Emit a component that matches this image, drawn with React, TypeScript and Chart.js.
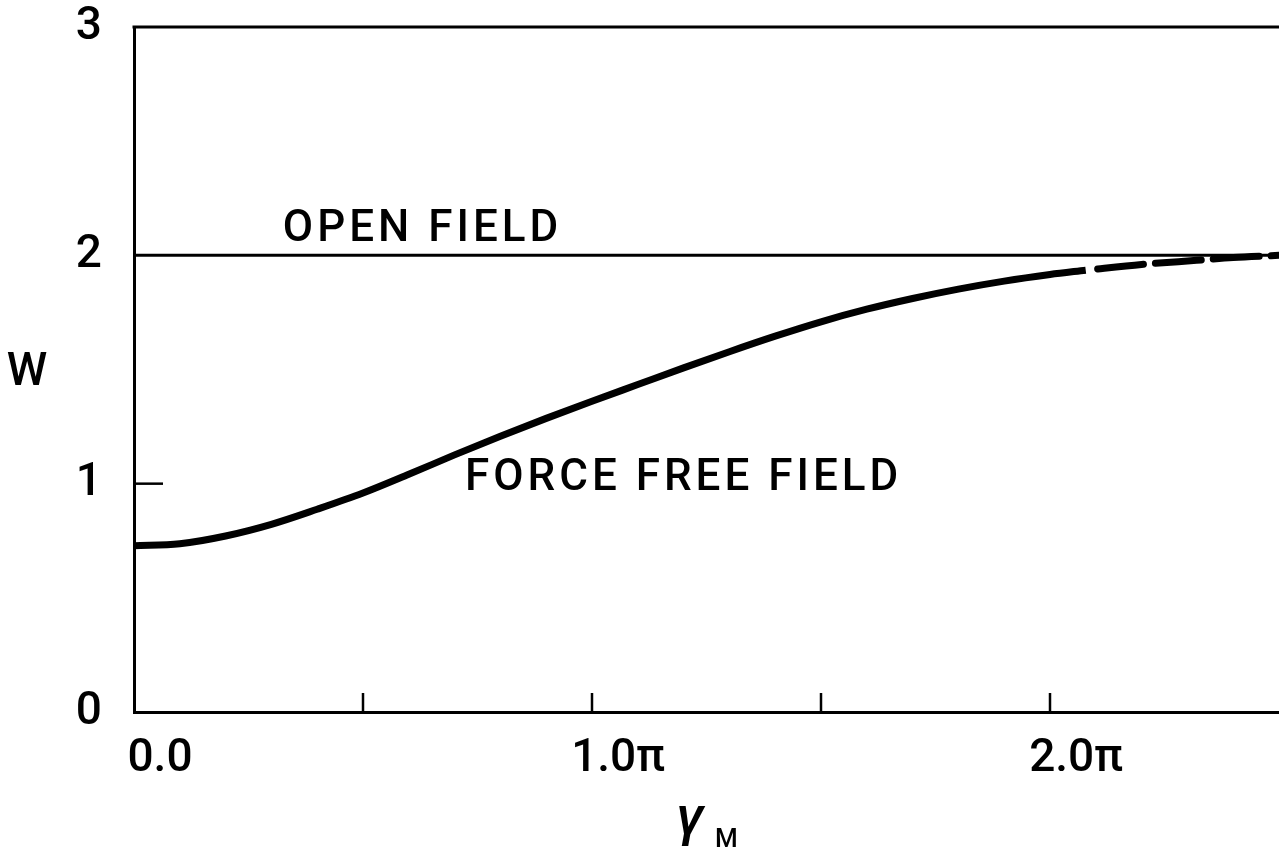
import React, { useEffect, useRef } from "react";
import { Chart, registerables } from "chart.js";

Chart.register(...registerables);

// x in units of pi, W values
const solidX = [0.0, 0.1, 0.2, 0.3, 0.4, 0.5, 0.6, 0.7, 0.8, 0.9, 1.0, 1.1, 1.2, 1.3, 1.4, 1.5, 1.6, 1.7, 1.8, 1.9, 2.0, 2.078];
const solidW = [0.728, 0.737, 0.771, 0.822, 0.888, 0.959, 1.041, 1.126, 1.208, 1.286, 1.361, 1.434, 1.507, 1.578, 1.646, 1.709, 1.764, 1.811, 1.852, 1.887, 1.916, 1.935];
const dashX = [2.078, 2.2, 2.32, 2.4, 2.5];
const dashW = [1.935, 1.96, 1.978, 1.99, 2.0];
const openX = [0, 2.5];
const openW = [2, 2];
const xTickValues = [0, 1, 2];
const xTickLabels = ["0.0", "1.0π", "2.0π"];
const xMinorTicks = [0.5, 1, 1.5, 2];
const yTickValues = [0, 1, 2, 3];
const yTickLabels = ["0", "1", "2", "3"];
const yInnerTicks = [1];

const FONT = "Roboto, 'Liberation Sans', Arial, sans-serif";

const pts = (xs: number[], ys: number[]) => xs.map((x, i) => ({ x, y: ys[i] }));

const overlay = {
  id: "overlay",
  afterDraw(chart: any) {
    const { ctx, chartArea, scales } = chart;
    const xs = scales.x;
    const ys = scales.y;
    ctx.save();
    ctx.strokeStyle = "#000";
    ctx.lineCap = "butt";
    // top frame line
    ctx.lineWidth = 3;
    ctx.beginPath();
    ctx.moveTo(chartArea.left - 1.5, chartArea.top);
    ctx.lineTo(chartArea.right, chartArea.top);
    ctx.stroke();
    // inward x ticks
    ctx.lineWidth = 2.5;
    xMinorTicks.forEach((v) => {
      const px = xs.getPixelForValue(v);
      ctx.beginPath();
      ctx.moveTo(px, chartArea.bottom);
      ctx.lineTo(px, chartArea.bottom - 19);
      ctx.stroke();
    });
    // inward y ticks
    yInnerTicks.forEach((v) => {
      const py = ys.getPixelForValue(v);
      ctx.beginPath();
      ctx.moveTo(chartArea.left, py);
      ctx.lineTo(chartArea.left + 29, py);
      ctx.stroke();
    });
    // annotations
    ctx.fillStyle = "#000";
    ctx.textAlign = "center";
    ctx.textBaseline = "middle";
    ctx.font = `500 44px ${FONT}`;
    (ctx as any).letterSpacing = "4px";
    ctx.fillText("OPEN FIELD", xs.getPixelForValue(0.63), ys.getPixelForValue(2.11));
    ctx.fillText("FORCE FREE FIELD", xs.getPixelForValue(1.2), ys.getPixelForValue(1.02));
    (ctx as any).letterSpacing = "0px";
    // axis titles
    ctx.font = `500 46px ${FONT}`;
    ctx.fillText("W", 27, 373);
    ctx.textAlign = "left";
    ctx.textBaseline = "alphabetic";
    ctx.font = `italic 500 56px ${FONT}`;
    ctx.fillText("γ", 676, 835);
    ctx.font = `500 26px ${FONT}`;
    ctx.fillText("M", 715, 847);
    ctx.restore();
  },
};

export default function App() {
  const ref = useRef<HTMLCanvasElement | null>(null);
  useEffect(() => {
    if (!ref.current) return;
    const chart = new Chart(ref.current, {
      type: "line",
      data: {
        datasets: [
          {
            label: "force free",
            data: pts(solidX, solidW),
            borderColor: "#000",
            borderWidth: 7,
            pointRadius: 0,
            cubicInterpolationMode: "monotone",
            fill: false,
          },
          {
            label: "force free (extrapolated)",
            data: pts(dashX, dashW),
            borderColor: "#000",
            borderWidth: 7,
            borderDash: [46, 12],
            borderDashOffset: 46,
            borderCapStyle: "round",
            pointRadius: 0,
            cubicInterpolationMode: "monotone",
            fill: false,
          },
          {
            label: "open field",
            data: pts(openX, openW),
            borderColor: "#000",
            borderWidth: 3,
            pointRadius: 0,
            fill: false,
          },
        ],
      },
      options: {
        responsive: false,
        animation: false,
        events: [],
        layout: { padding: { top: 27, right: 0, left: 0, bottom: 0 } },
        plugins: { legend: { display: false }, tooltip: { enabled: false }, title: { display: false } },
        scales: {
          x: {
            type: "linear",
            min: 0,
            max: 2.5,
            grid: { display: false, drawTicks: false },
            border: { display: true, color: "#000", width: 3 },
            afterBuildTicks: (scale: any) => {
              scale.ticks = xTickValues.map((v) => ({ value: v }));
            },
            afterFit: (scale: any) => {
              scale.height = 150;
              scale.paddingLeft = 0;
              scale.paddingRight = 0;
            },
            ticks: {
              color: "#000",
              font: { family: FONT, size: 46, weight: "500" },
              padding: 20,
              labelOffset: 26,
              maxRotation: 0,
              autoSkip: false,
              callback: (v: any) => {
                const i = xTickValues.indexOf(Number(v));
                return i >= 0 ? xTickLabels[i] : "";
              },
            },
          },
          y: {
            type: "linear",
            min: 0,
            max: 3,
            grid: { display: false, drawTicks: false },
            border: { display: true, color: "#000", width: 3 },
            afterBuildTicks: (scale: any) => {
              scale.ticks = yTickValues.map((v) => ({ value: v }));
            },
            afterFit: (scale: any) => {
              scale.width = 134;
              scale.paddingTop = 0;
              scale.paddingBottom = 0;
            },
            ticks: {
              color: "#000",
              font: { family: FONT, size: 46, weight: "500" },
              padding: 32,
              autoSkip: false,
              callback: (v: any) => {
                const i = yTickValues.indexOf(Number(v));
                return i >= 0 ? yTickLabels[i] : "";
              },
            },
          },
        },
      },
      plugins: [overlay],
    });
    return () => chart.destroy();
  }, []);
  return (
    <div style={{ position: "fixed", left: 0, top: 0, width: 1279, height: 862, background: "#fff" }}>
      <canvas ref={ref} width={1279} height={862} style={{ display: "block" }} />
    </div>
  );
}
